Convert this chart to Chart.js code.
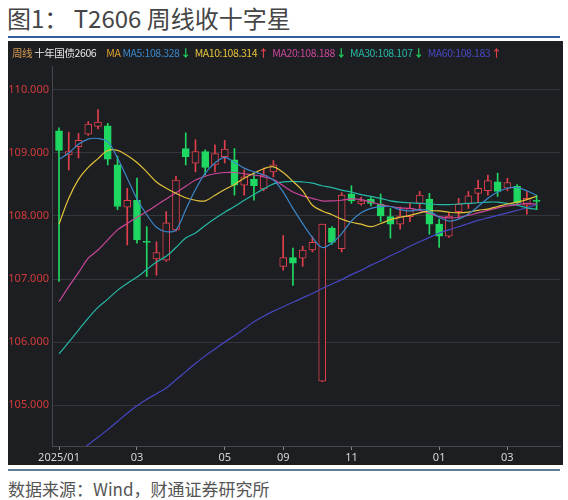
<!DOCTYPE html>
<html>
<head>
<meta charset="utf-8">
<script src="https://cdn.jsdelivr.net/npm/chart.js@4.4.1/dist/chart.umd.min.js"></script>
<style>
  body { margin: 0; width: 568px; height: 500px; background: #fff; position: relative; overflow: hidden;
         font-family: "Noto Sans CJK SC", "Noto Sans", sans-serif; }
  #title { position: absolute; left: 7px; top: 0px; font-size: 24px; color: #454545; white-space: nowrap; }
  #topLine { position: absolute; left: 8px; top: 36px; width: 552px; height: 2px; background: #2f5e98; }
  #panel { position: absolute; left: 8px; top: 41px; width: 555px; height: 424px; background: #1d1e22; }
  #head { position: absolute; left: 4px; top: 4px; font-size: 10.5px; white-space: nowrap; z-index: 2;
          font-family: "Noto Sans CJK SC", sans-serif; letter-spacing: -0.4px; }
  #head .arr { font-weight: bold; margin: 0 4px 0 1px; }
  #wrap { position: absolute; left: 0; top: 0; width: 555px; height: 424px; }
  #botLine { position: absolute; left: 8px; top: 469px; width: 552px; height: 2px; background: #5f7b95; }
  #foot { position: absolute; left: 8px; top: 476px; font-size: 17px; color: #555; white-space: nowrap; }
</style>
</head>
<body>
<div id="title">图1： T2606 周线收十字星</div>
<div id="topLine"></div>
<div id="panel">
  <div id="head"></div>
  <div id="wrap"><canvas id="c"></canvas></div>
</div>
<div id="botLine"></div>
<div id="foot">数据来源：Wind，财通证券研究所</div>

<script>
// weekly candles (index 0 = first week of 2025)
const open  = [109.35,108.97,109.10,109.30,109.42,109.43,108.81,108.14,108.25,107.59,107.32,107.30,107.78,109.07,108.84,109.02,108.81,108.94,108.89,108.49,108.58,108.43,108.70,107.20,107.34,107.33,107.46,105.38,107.81,107.48,108.35,108.19,108.27,108.19,107.99,107.87,107.99,108.20,108.27,107.87,107.68,108.07,108.19,108.36,108.40,108.54,108.44,108.47,108.17,108.25];
const high  = [109.40,109.33,109.31,109.50,109.69,109.47,108.95,108.44,108.60,107.83,107.59,108.07,108.63,109.32,109.21,109.05,109.13,109.20,109.07,108.73,108.68,108.76,108.88,107.69,107.49,107.52,107.67,107.87,107.83,108.37,108.48,108.30,108.30,108.35,108.12,108.14,108.21,108.39,108.36,107.95,108.05,108.28,108.39,108.57,108.65,108.68,108.60,108.50,108.39,108.33];
const low   = [106.96,108.73,108.92,109.28,109.38,108.81,108.10,107.54,107.57,107.04,107.06,107.28,107.76,108.81,108.70,108.65,108.70,108.84,108.33,108.33,108.25,108.40,108.62,107.14,106.90,107.20,107.43,105.37,107.55,107.43,108.20,108.17,108.16,107.91,107.65,107.79,107.91,108.10,107.71,107.50,107.66,107.96,108.12,108.21,108.33,108.31,108.40,108.17,108.03,108.10];
const close = [109.04,109.02,109.20,109.46,109.49,108.90,108.15,108.25,107.62,107.58,107.42,107.89,108.57,108.94,109.02,108.77,108.99,109.06,108.49,108.62,108.48,108.65,108.81,107.34,107.25,107.46,107.58,107.87,107.58,108.33,108.24,108.24,108.20,108.00,107.87,108.00,108.12,108.33,107.87,107.68,108.00,108.19,108.32,108.44,108.56,108.39,108.53,108.21,108.28,108.23];

// moving averages as drawn by the terminal
const ma5  = [108.90,109.00,109.14,109.22,109.23,109.18,108.92,108.60,108.27,108.02,107.82,107.75,107.78,108.10,108.42,108.68,108.84,108.93,108.85,108.76,108.70,108.65,108.57,108.38,108.12,107.88,107.66,107.50,107.57,107.72,107.92,108.05,108.12,108.15,108.15,108.10,108.08,108.10,108.08,107.98,107.92,107.95,108.03,108.15,108.28,108.38,108.44,108.45,108.40,108.328];
const ma10 = [107.87,108.28,108.58,108.77,108.91,109.04,109.04,108.96,108.85,108.70,108.54,108.44,108.36,108.29,108.25,108.24,108.33,108.42,108.50,108.60,108.68,108.75,108.78,108.69,108.55,108.40,108.17,108.08,108.02,107.95,107.90,107.87,107.83,107.88,107.94,107.98,108.01,108.05,108.08,108.08,108.06,108.05,108.06,108.09,108.11,108.15,108.19,108.22,108.26,108.314];
const ma20 = [106.64,106.88,107.10,107.33,107.46,107.62,107.78,107.88,107.98,108.07,108.17,108.27,108.37,108.47,108.57,108.63,108.67,108.69,108.69,108.67,108.65,108.62,108.58,108.48,108.38,108.32,108.28,108.24,108.24,108.25,108.27,108.26,108.22,108.18,108.15,108.13,108.12,108.09,108.04,107.99,107.97,107.98,108.01,108.05,108.09,108.13,108.16,108.18,108.20,108.188];
const ma30 = [105.81,106.00,106.19,106.38,106.55,106.68,106.82,106.93,107.03,107.15,107.27,107.36,107.50,107.65,107.73,107.85,107.96,108.06,108.15,108.25,108.34,108.43,108.51,108.54,108.55,108.54,108.52,108.48,108.45,108.41,108.38,108.34,108.31,108.28,108.24,108.22,108.21,108.20,108.19,108.18,108.18,108.19,108.20,108.21,108.22,108.22,108.20,108.17,108.13,108.107];
const ma60 = [103.98,104.11,104.24,104.37,104.49,104.61,104.74,104.87,104.99,105.09,105.18,105.27,105.40,105.53,105.66,105.78,105.89,106.00,106.10,106.21,106.32,106.41,106.49,106.56,106.63,106.70,106.77,106.85,106.92,106.99,107.07,107.14,107.22,107.29,107.37,107.44,107.52,107.59,107.66,107.73,107.78,107.83,107.88,107.93,107.97,108.01,108.05,108.09,108.13,108.183];

const tickIdx    = [0, 8, 17, 23, 30, 39, 46];
const tickLabels = ["2025/01", "03", "05", "09", "11", "01", "03"];
const yTicks     = [105, 106, 107, 108, 109, 110];

const RED = "#e0404c", GREEN = "#1fd862", PANEL = "#1d1e22";

const maList = [
  { name: "MA5",  data: ma5,  color: "#3b86c8" },
  { name: "MA10", data: ma10, color: "#e3c23a" },
  { name: "MA20", data: ma20, color: "#c8479a" },
  { name: "MA30", data: ma30, color: "#25b8a6" },
  { name: "MA60", data: ma60, color: "#4747c2" }
];

// header row
let h = '<span style="color:#d29a52">周线</span> <span style="color:#e6e6e6">十年国债2606</span>' +
        '<span style="display:inline-block;width:10px"></span><span style="color:#e0a030;margin-right:2px">MA</span>';
maList.forEach(m => {
  const n = m.data.length, last = m.data[n - 1], up = last >= m.data[n - 2];
  h += '<span style="color:' + m.color + '">' + m.name + ':' + last.toFixed(3) + '</span>' +
       '<span class="arr" style="color:' + (up ? RED : GREEN) + '">' + (up ? '↑' : '↓') + '</span>';
});
document.getElementById("head").innerHTML = h;

const isUp = open.map((o, i) => close[i] >= o);

const datasets = [
  {
    type: "bar", order: 3, grouped: false, barThickness: 1,
    data: low.map((l, i) => ({ x: i, y: [l, high[i]] })),
    backgroundColor: isUp.map(u => u ? RED : GREEN)
  },
  {
    type: "bar", order: 2, grouped: false, barThickness: 7, minBarLength: 1,
    data: open.map((o, i) => ({ x: i, y: [o, close[i]] })),
    backgroundColor: isUp.map(u => u ? PANEL : GREEN),
    borderColor: isUp.map(u => u ? RED : GREEN),
    borderWidth: 1, borderSkipped: false
  }
];
maList.forEach(m => {
  datasets.push({
    type: "line", order: 1, data: m.data.map((v, i) => ({ x: i, y: v })),
    borderColor: m.color, borderWidth: 1.2, pointRadius: 0, tension: 0.35, fill: false
  });
});

new Chart(document.getElementById("c"), {
  type: "bar",
  data: { datasets },
  options: {
    responsive: true, maintainAspectRatio: false, animation: false,
    layout: { padding: { top: 25, right: 3, left: 0, bottom: 0 } },
    plugins: { legend: { display: false }, tooltip: { enabled: false } },
    scales: {
      x: {
        type: "linear", min: -0.72, max: 51.4, offset: false,
        grid: { display: true, drawOnChartArea: false, drawTicks: true, tickLength: 4, color: "#8a8a8a", offset: false },
        border: { color: "#45474c" },
        afterBuildTicks: s => { s.ticks = tickIdx.map(v => ({ value: v })); },
        afterFit: s => { s.height = 19; },
        ticks: {
          autoSkip: false, maxRotation: 0, padding: 1, color: "#d6d6d6",
          font: { family: "Noto Sans", size: 11 },
          callback: v => tickLabels[tickIdx.indexOf(v)]
        }
      },
      y: {
        min: 104.35, max: 110.38,
        grid: { color: "#34363b", drawTicks: false },
        border: { color: "#45474c" },
        afterBuildTicks: s => { s.ticks = yTicks.map(v => ({ value: v })); },
        afterFit: s => { s.width = 44; },
        ticks: {
          padding: 3, color: "#d23b3b",
          font: { family: "Noto Sans", size: 11 },
          callback: v => v.toFixed(3)
        }
      }
    }
  }
});
</script>
</body>
</html>
